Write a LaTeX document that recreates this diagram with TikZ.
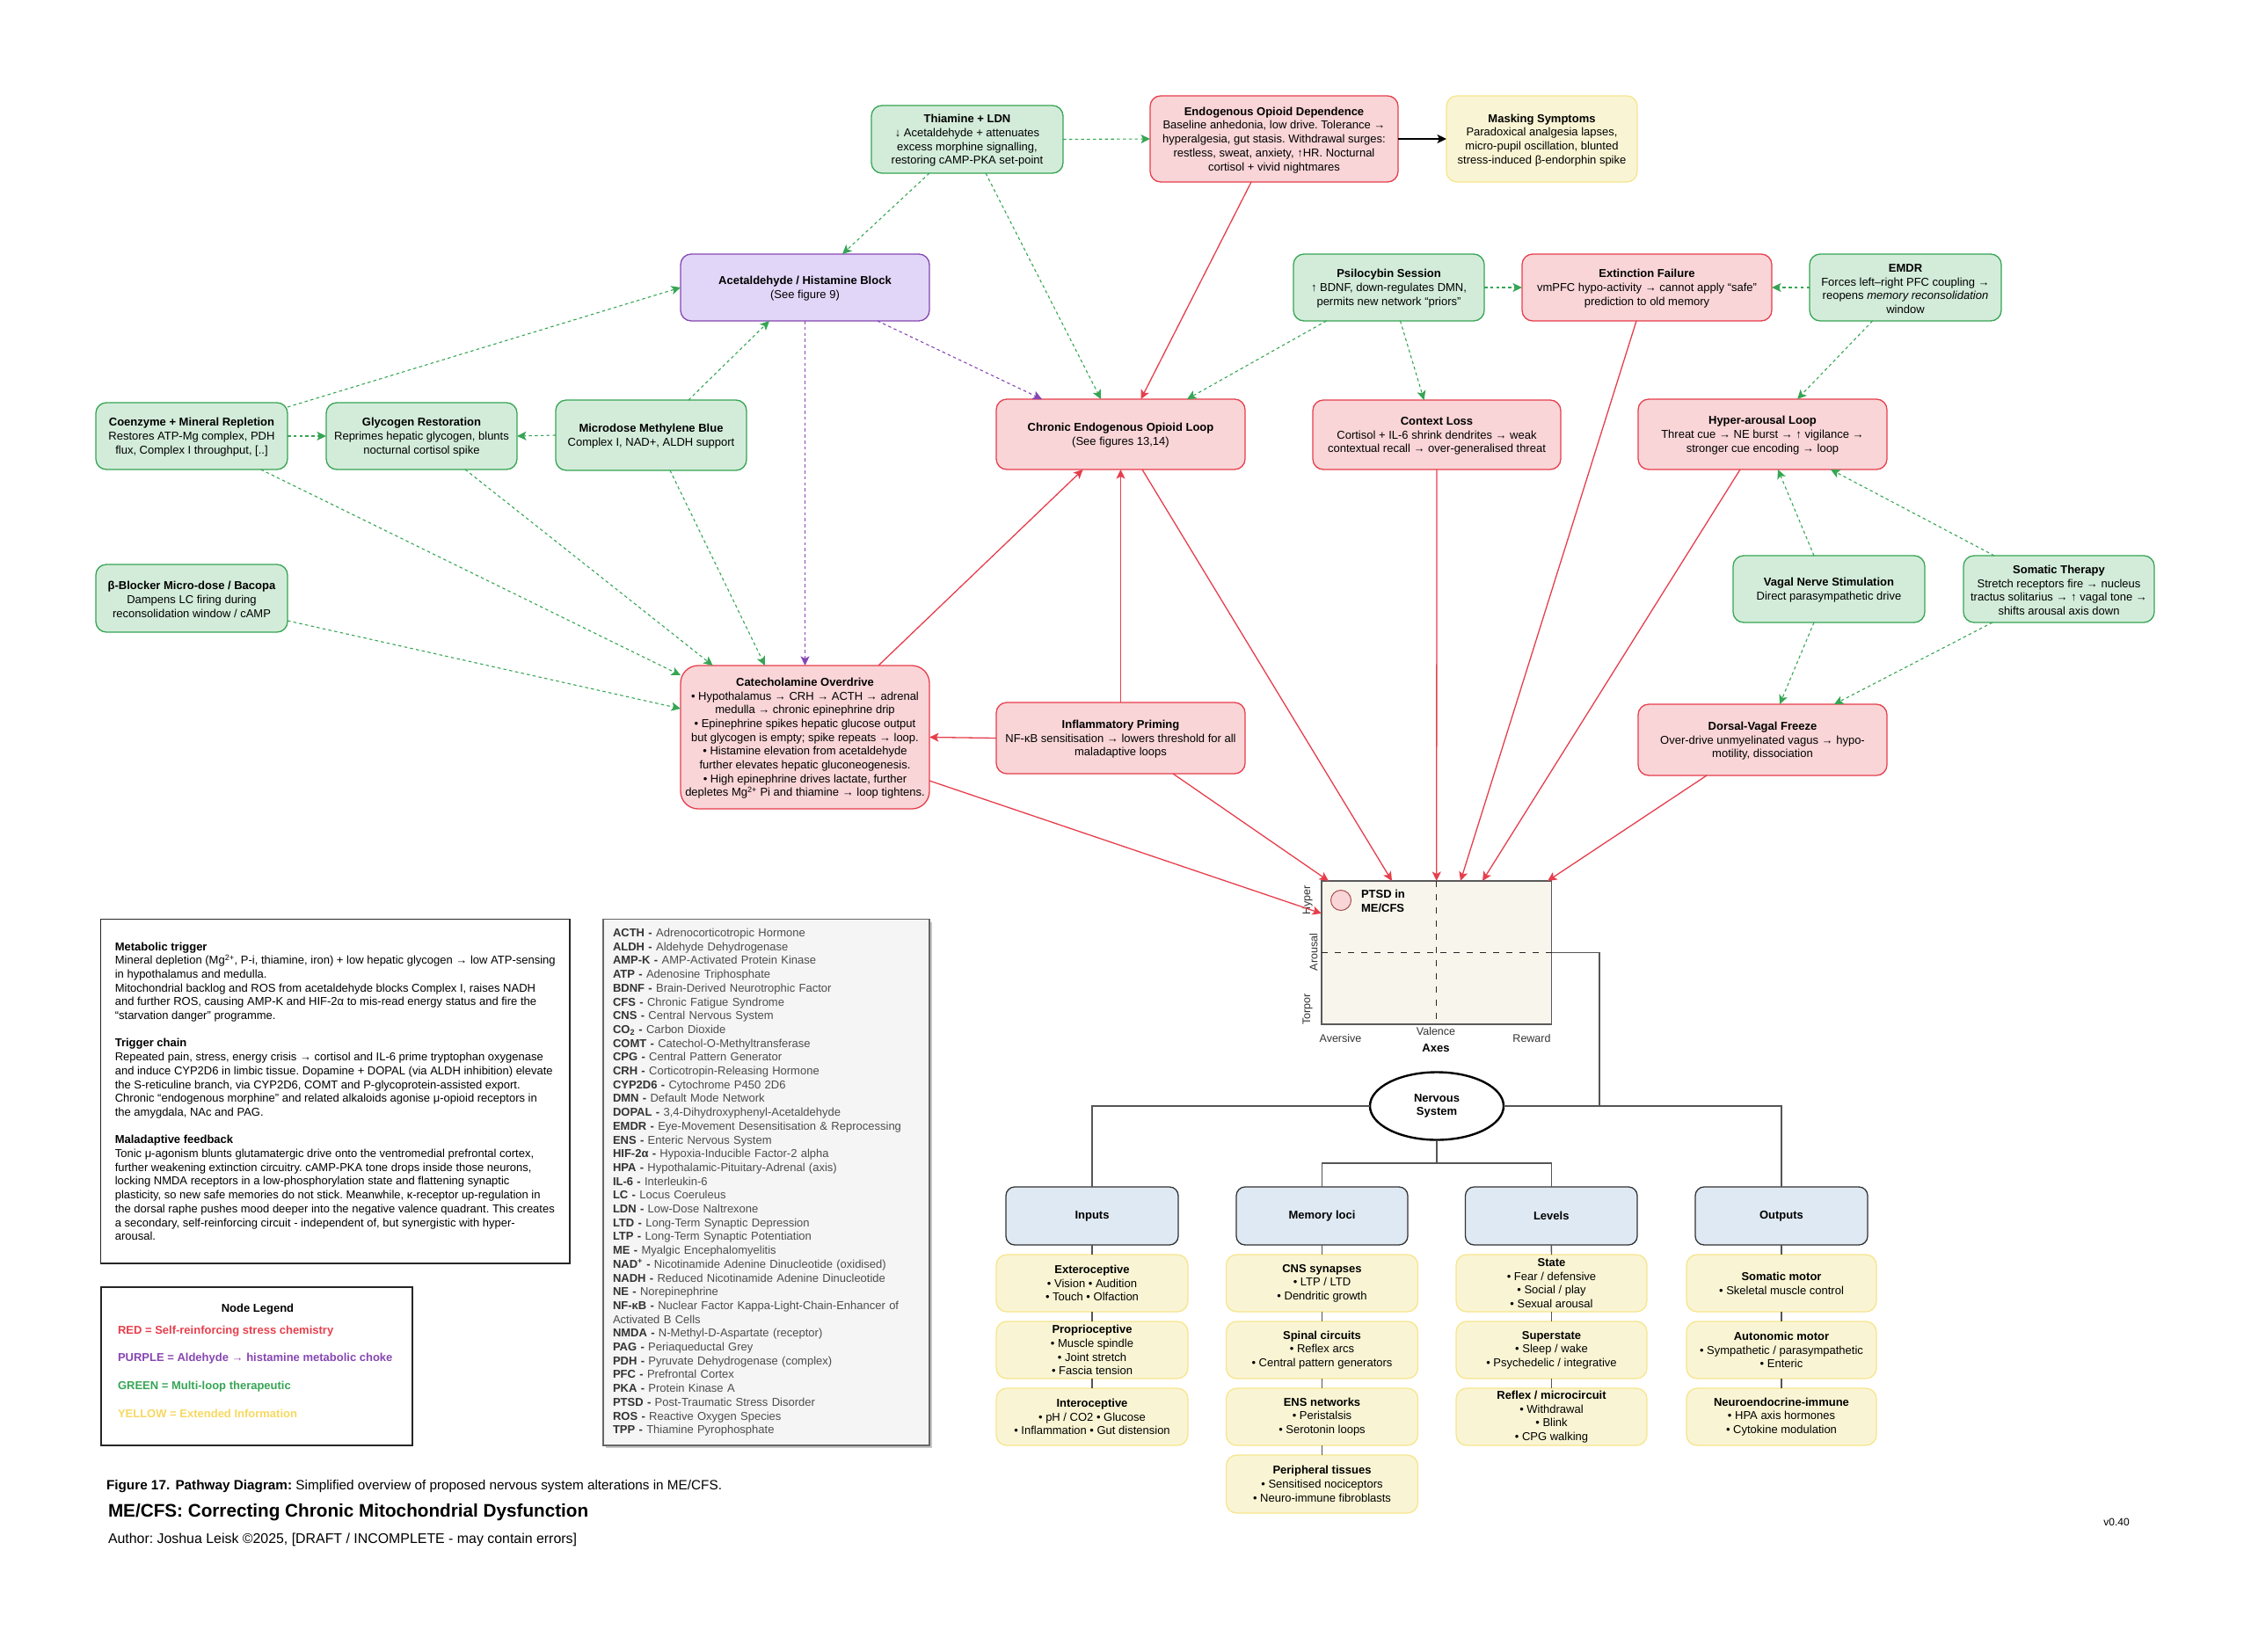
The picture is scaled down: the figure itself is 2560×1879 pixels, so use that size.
\documentclass[tikz,border=0pt]{standalone}
\usepackage{fontspec}
\setmainfont{Liberation Sans}
\usetikzlibrary{arrows.meta,calc,shapes.geometric,shadows}
\AtBeginDocument{\frenchspacing}
\definecolor{redfill}{HTML}{F9D5D7}
\definecolor{redline}{HTML}{E63E4C}
\definecolor{greenfill}{HTML}{D3ECDA}
\definecolor{greenline}{HTML}{36A554}
\definecolor{purplefill}{HTML}{E2D6F8}
\definecolor{purpleline}{HTML}{8646B2}
\definecolor{yellowfill}{HTML}{F9F5D4}
\definecolor{yellowline}{HTML}{F7E58E}
\definecolor{bluefill}{HTML}{DFE9F3}
\definecolor{axesfill}{HTML}{F8F5EC}
\definecolor{greyline}{HTML}{555555}
\definecolor{abbrfill}{HTML}{F5F5F5}
\definecolor{legyellow}{HTML}{F6D860}
\newcommand{\pbox}[7]{\node[#2,minimum width={#5-#3},minimum height={#6-#4}] (#1) at ({(#3+#5)/2},{(#4+#6)/2}) {\rule{0pt}{12pt}#7};}
\newcommand{\pboxn}[7]{\node[#2,minimum width={#5-#3},minimum height={#6-#4}] (#1) at ({(#3+#5)/2},{(#4+#6)/2}) {#7};}
\newcommand{\ab}[2]{\textcolor[HTML]{333333}{\textbf{#1 -}} #2\\}
\tikzset{
  every node/.style={font=\fontsize{13}{15.7}\selectfont,inner sep=0pt,outer sep=0pt,align=center},
  roundbox/.style={draw,rounded corners=12pt,line width=1.3pt},
  redbox/.style={roundbox,fill=redfill,draw=redline},
  greenbox/.style={roundbox,fill=greenfill,draw=greenline},
  purplebox/.style={roundbox,fill=purplefill,draw=purpleline},
  yellowbox/.style={roundbox,fill=yellowfill,draw=yellowline},
  bluebox/.style={roundbox,fill=bluefill,draw=black!80,rounded corners=10pt},
  panelbox/.style={draw=black!85,line width=1.3pt},
  tip/.style={-{Stealth[length=10.5pt,width=10pt,inset=2.5pt]}},
  gline/.style={tip,draw=greenline,line width=1.1pt,dash pattern=on 3.5pt off 3.3pt},
  pline/.style={tip,draw=purpleline,line width=1.1pt,dash pattern=on 3.5pt off 3.3pt},
  rline/.style={tip,draw=redline,line width=1.3pt},
  kline/.style={tip,draw=black,line width=1.6pt},
  conn/.style={draw=greyline,line width=1.4pt},
  axdash/.style={draw=black!85,line width=1.4pt,dash pattern=on 7pt off 8pt},
  axtext/.style={font=\fontsize{12.5}{15}\selectfont,text=black!80},
  legline/.style={font=\fontsize{13}{15}\selectfont\bfseries,anchor=west},
}
\begin{document}
\begin{tikzpicture}[x=1pt,y=-1pt]
\useasboundingbox (0,0) rectangle (2560,1879);

% ---- upper nodes
\pbox{thi}{greenbox}{991}{120}{1209}{197}{\textbf{Thiamine + LDN}\\↓ Acetaldehyde + attenuates\\excess morphine signalling,\\restoring cAMP-PKA set-point}
\pbox{endo}{redbox}{1308}{109}{1590}{207}{\textbf{Endogenous Opioid Dependence}\\Baseline anhedonia, low drive. Tolerance →\\hyperalgesia, gut stasis. Withdrawal surges:\\restless, sweat, anxiety, ↑HR. Nocturnal\\cortisol + vivid nightmares}
\pbox{mask}{yellowbox}{1645}{109}{1862}{207}{\textbf{Masking Symptoms}\\Paradoxical analgesia lapses,\\micro-pupil oscillation, blunted\\stress-induced β-endorphin spike}
\pbox{acet}{purplebox}{774}{289}{1057}{365}{\textbf{Acetaldehyde / Histamine Block}\\(See figure 9)}
\pbox{psi}{greenbox}{1471}{289}{1688}{365}{\textbf{Psilocybin Session}\\↑ BDNF, down-regulates DMN,\\permits new network “priors”}
\pbox{ext}{redbox}{1731}{289}{2015}{365}{\textbf{Extinction Failure}\\vmPFC hypo-activity → cannot apply “safe”\\prediction to old memory}
\pbox{emdr}{greenbox}{2058}{289}{2276}{365}{\textbf{EMDR}\\Forces left–right PFC coupling →\\reopens \textit{memory reconsolidation}\\window}
\pbox{coen}{greenbox}{109}{458}{327}{534}{\textbf{Coenzyme + Mineral Repletion}\\Restores ATP-Mg complex, PDH\\flux, Complex I throughput, [..]}
\pbox{glyc}{greenbox}{371}{458}{588}{534}{\textbf{Glycogen Restoration}\\Reprimes hepatic glycogen, blunts\\nocturnal cortisol spike}
\pbox{micro}{greenbox}{632}{455}{849}{535}{\textbf{Microdose Methylene Blue}\\Complex I, NAD+, ALDH support}
\pbox{chron}{redbox}{1133}{454}{1416}{534}{\textbf{Chronic Endogenous Opioid Loop}\\(See figures 13,14)}
\pbox{ctx}{redbox}{1493}{455}{1775}{534}{\textbf{Context Loss}\\Cortisol + IL-6 shrink dendrites → weak\\contextual recall → over-generalised threat}
\pbox{hyp}{redbox}{1863}{454}{2146}{534}{\textbf{Hyper-arousal Loop}\\Threat cue → NE burst → ↑ vigilance →\\stronger cue encoding → loop}
\pbox{vag}{greenbox}{1971}{632}{2189}{708}{\textbf{Vagal Nerve Stimulation}\\Direct parasympathetic drive}
\pbox{som}{greenbox}{2233}{632}{2450}{708}{\textbf{Somatic Therapy}\\Stretch receptors fire → nucleus\\tractus solitarius → ↑ vagal tone →\\shifts arousal axis down}
\pbox{blk}{greenbox}{109}{642}{327}{719}{\textbf{β-Blocker Micro-dose / Bacopa}\\Dampens LC firing during\\reconsolidation window / cAMP}
\pbox{cat}{redbox,rounded corners=20pt}{774}{757}{1057}{920}{\textbf{Catecholamine Overdrive}\\• Hypothalamus → CRH → ACTH → adrenal\\medulla → chronic epinephrine drip\\• Epinephrine spikes hepatic glucose output\\but glycogen is empty; spike repeats → loop.\\• Histamine elevation from acetaldehyde\\further elevates hepatic gluconeogenesis.\\• High epinephrine drives lactate, further\\depletes Mg\textsuperscript{2+} Pi and thiamine → loop tightens.}
\pbox{inf}{redbox}{1133}{799}{1416}{880}{\textbf{Inflammatory Priming}\\NF-κB sensitisation → lowers threshold for all\\maladaptive loops}
\pbox{dor}{redbox}{1863}{801}{2146}{882}{\textbf{Dorsal-Vagal Freeze}\\Over-drive unmyelinated vagus → hypo-\\motility, dissociation}

% ---- axes panel
\pboxn{axes}{draw=black!65,fill=axesfill,line width=1.4pt}{1503}{1002}{1764.5}{1165}{}
\draw[axdash] (axes.north) -- (axes.south);
\draw[axdash] (axes.west) -- (axes.east);
\node[circle,draw=red!50!black!70,fill=redfill,line width=1pt,minimum width=23pt] (ptsdmark) at (1525,1024) {};
\node[anchor=west,align=left] (ptsd) at (1548,1025) {\textbf{PTSD in}\\\textbf{ME/CFS}};
\node[axtext,rotate=90] (lhyper) at (1487,1024) {Hyper};
\node[axtext,rotate=90] (larousal) at (1494,1083) {Arousal};
\node[axtext,rotate=90] (ltorpor) at (1487,1148) {Torpor};
\node[axtext] (laver) at (1524.5,1181) {Aversive};
\node[axtext] (lval) at (1633,1173) {Valence};
\node[axtext] (lrew) at (1742,1181) {Reward};
\node (laxes) at (1633,1192) {\textbf{Axes}};

% ---- nervous system tree
\node[ellipse,draw=black,fill=white,line width=2.4pt,minimum width=152pt,minimum height=77pt] (ns) at (1634,1258) {\textbf{Nervous}\\\textbf{System}};
\pboxn{inputs}{bluebox}{1144}{1350}{1340}{1416}{\textbf{Inputs}}
\pboxn{memory}{bluebox}{1406}{1350}{1601}{1416}{\textbf{Memory loci}}
\pboxn{levels}{bluebox}{1666.5}{1350}{1862}{1416}{\textbf{Levels}}
\pboxn{outputs}{bluebox}{1928}{1350}{2124}{1416}{\textbf{Outputs}}

\pboxn{ia}{yellowbox}{1133}{1427}{1351}{1492}{\textbf{Exteroceptive}\\• Vision • Audition\\• Touch • Olfaction}
\pboxn{ib}{yellowbox}{1133}{1503}{1351}{1568}{\textbf{Proprioceptive}\\• Muscle spindle\\• Joint stretch\\• Fascia tension}
\pboxn{ic}{yellowbox}{1133}{1579}{1351}{1644}{\textbf{Interoceptive}\\• pH / CO2 • Glucose\\• Inflammation • Gut distension}
\pboxn{ma}{yellowbox}{1394.5}{1427}{1612.5}{1492}{\textbf{CNS synapses}\\• LTP / LTD\\• Dendritic growth}
\pboxn{mb}{yellowbox}{1394.5}{1503}{1612.5}{1568}{\textbf{Spinal circuits}\\• Reflex arcs\\• Central pattern generators}
\pboxn{mc}{yellowbox}{1394.5}{1579}{1612.5}{1644}{\textbf{ENS networks}\\• Peristalsis\\• Serotonin loops}
\pboxn{md}{yellowbox}{1394.5}{1655}{1612.5}{1721}{\textbf{Peripheral tissues}\\• Sensitised nociceptors\\• Neuro-immune fibroblasts}
\pboxn{la}{yellowbox}{1656}{1427}{1873}{1492}{\textbf{State}\\• Fear / defensive\\• Social / play\\• Sexual arousal}
\pboxn{lb}{yellowbox}{1656}{1503}{1873}{1568}{\textbf{Superstate}\\• Sleep / wake\\• Psychedelic / integrative}
\pboxn{lc}{yellowbox}{1656}{1579}{1873}{1644}{\textbf{Reflex / microcircuit}\\• Withdrawal\\• Blink\\• CPG walking}
\pboxn{oa}{yellowbox}{1918}{1427}{2134}{1492}{\textbf{Somatic motor}\\• Skeletal muscle control}
\pboxn{ob}{yellowbox}{1918}{1503}{2134}{1568}{\textbf{Autonomic motor}\\• Sympathetic / parasympathetic\\• Enteric}
\pboxn{oc}{yellowbox}{1918}{1579}{2134}{1644}{\textbf{Neuroendocrine-immune}\\• HPA axis hormones\\• Cytokine modulation}

\draw[conn] (axes.east) -| ($(ns.east)+(109,0)$);
\draw[conn] (ns.east) -| (outputs.north);
\draw[conn] (ns.west) -| (inputs.north);
\draw[conn] (memory.north) -- ++(0,-27) coordinate (busl) -| (levels.north);
\draw[conn] (ns.south) -- (ns.south |- busl);
\foreach \a/\b in {inputs/ia,ia/ib,ib/ic,memory/ma,ma/mb,mb/mc,mc/md,levels/la,la/lb,lb/lc,outputs/oa,oa/ob,ob/oc}
  \draw[conn] (\a.south) -- (\b.north);

% ---- connectors
\draw[gline] (thi.east) -- (endo.west);
\draw[kline] (endo.east) -- (mask.west);
\draw[gline] ($(thi.south west)+(66,0)$) -- ($(acet.north west)+(184,0)$);
\draw[gline] ($(thi.south west)+(130,0)$) -- ($(chron.north west)+(119,0)$);
\draw[rline] ($(endo.south west)+(115,0)$) -- ($(chron.north west)+(164.5,0)$);
\draw[pline] ($(acet.south west)+(224,0)$) -- ($(chron.north west)+(52,0)$);
\draw[gline] ($(psi.south west)+(37.5,0)$) -- ($(chron.north east)+(-66,0)$);
\draw[gline] ($(psi.south west)+(121.5,0)$) -- ($(ctx.north west)+(126.5,0)$);
\draw[gline] (psi.east) -- (ext.west);
\draw[gline] (emdr.west) -- (ext.east);
\draw[gline] ($(emdr.south west)+(71.6,0)$) -- ($(hyp.north west)+(181,0)$);
\draw[gline] ($(vag.north west)+(92,0)$) -- ($(hyp.south west)+(159,0)$);
\draw[gline] ($(som.north west)+(35,0)$) -- ($(hyp.south west)+(219,0)$);
\draw[gline] ($(vag.south west)+(92,0)$) -- ($(dor.north west)+(161,0)$);
\draw[gline] ($(som.south west)+(33,0)$) -- ($(dor.north west)+(223,0)$);
\draw[rline] ($(ext.south west)+(130,0)$) -- ($(axes.north west)+(158,0)$);
\draw[rline] ($(hyp.south west)+(116,0)$) -- ($(axes.north west)+(183,0)$);
\draw[rline] ($(dor.south west)+(78,0)$) -- ($(axes.north east)+(-4.5,0)$);
\draw[rline] (ctx.south) -- (axes.north);
\draw[rline] ($(chron.south west)+(166,0)$) -- ($(axes.north west)+(80,0)$);
\draw[rline] ($(inf.south west)+(201,0)$) -- ($(axes.north west)+(8,0)$);
\draw[rline] ($(cat.south east)+(0,-32)$) -- ($(axes.north west)+(0,37)$);
\draw[rline] (inf.west) -- (cat.east);
\draw[rline] (inf.north) -- (chron.south);
\draw[rline] ($(cat.north west)+(225,0)$) -- ($(chron.south west)+(98.6,0)$);
\draw[gline] ($(coen.north east)+(0,5)$) -- (acet.west);
\draw[gline] (coen.east) -- (glyc.west);
\draw[gline] (micro.west) -- (glyc.east);
\draw[gline] ($(micro.north west)+(151,0)$) -- ($(acet.south west)+(101,0)$);
\draw[pline] (acet.south) -- (cat.north);
\draw[gline] ($(coen.south west)+(187.6,0)$) -- ($(cat.north west)+(0,11)$);
\draw[gline] ($(glyc.south west)+(158,0)$) -- ($(cat.north west)+(36.7,0)$);
\draw[gline] ($(micro.south west)+(130,0)$) -- ($(cat.north west)+(96,0)$);
\draw[gline] ($(blk.south east)+(0,-13)$) -- ($(cat.north west)+(0,49)$);

% ---- text panels
\node[panelbox,minimum height=391.5pt,minimum width=533.5pt,align=left] (notes) at (381.25,1241.25) {%
\textbf{Metabolic trigger}\\
Mineral depletion (Mg\textsuperscript{2+}, P-i, thiamine, iron) + low hepatic glycogen → low ATP-sensing\\
in hypothalamus and medulla.\\
Mitochondrial backlog and ROS from acetaldehyde blocks Complex I, raises NADH\\
and further ROS, causing AMP-K and HIF-2α to mis-read energy status and fire the\\
“starvation danger” programme.\\[15.7pt]
\textbf{Trigger chain}\\
Repeated pain, stress, energy crisis → cortisol and IL-6 prime tryptophan oxygenase\\
and induce CYP2D6 in limbic tissue. Dopamine + DOPAL (via ALDH inhibition) elevate\\
the S-reticuline branch, via CYP2D6, COMT and P-glycoprotein-assisted export.\\
Chronic “endogenous morphine” and related alkaloids agonise μ-opioid receptors in\\
the amygdala, NAc and PAG.\\[15.7pt]
\textbf{Maladaptive feedback}\\
Tonic μ-agonism blunts glutamatergic drive onto the ventromedial prefrontal cortex,\\
further weakening extinction circuitry. cAMP-PKA tone drops inside those neurons,\\
locking NMDA receptors in a low-phosphorylation state and flattening synaptic\\
plasticity, so new safe memories do not stick. Meanwhile, κ-receptor up-regulation in\\
the dorsal raphe pushes mood deeper into the negative valence quadrant. This creates\\
a secondary, self-reinforcing circuit - independent of, but synergistic with hyper-\\
arousal.};

\pboxn{legend}{panelbox}{115}{1464}{469}{1644}{}
\node[font=\fontsize{13}{15.7}\selectfont\bfseries] (legtitle) at (293,1489) {Node Legend};
\node[legline,text=redline] (legr) at (134,1514) {RED = Self-reinforcing stress chemistry};
\node[legline,text=purpleline] (legp) at (134,1545) {PURPLE = Aldehyde → histamine metabolic choke};
\node[legline,text=greenline] (legg) at (134,1577) {GREEN = Multi-loop therapeutic};
\node[legline,text=legyellow] (legy) at (134,1608) {YELLOW = Extended Information};

\node[draw=black!60,fill=abbrfill,line width=1.3pt,minimum height=598.5pt,text width=349pt,inner xsep=11pt,align=left,text=black!70,drop shadow={opacity=0.45,shadow xshift=3pt,shadow yshift=-3pt}] (abbr) at (871.5,1344.75) {%
\ab{ACTH}{Adrenocorticotropic Hormone}
\ab{ALDH}{Aldehyde Dehydrogenase}
\ab{AMP-K}{AMP-Activated Protein Kinase}
\ab{ATP}{Adenosine Triphosphate}
\ab{BDNF}{Brain-Derived Neurotrophic Factor}
\ab{CFS}{Chronic Fatigue Syndrome}
\ab{CNS}{Central Nervous System}
\ab{CO\textsubscript{2}}{Carbon Dioxide}
\ab{COMT}{Catechol-O-Methyltransferase}
\ab{CPG}{Central Pattern Generator}
\ab{CRH}{Corticotropin-Releasing Hormone}
\ab{CYP2D6}{Cytochrome P450 2D6}
\ab{DMN}{Default Mode Network}
\ab{DOPAL}{3,4-Dihydroxyphenyl-Acetaldehyde}
\ab{EMDR}{Eye-Movement Desensitisation \& Reprocessing}
\ab{ENS}{Enteric Nervous System}
\ab{HIF-2α}{Hypoxia-Inducible Factor-2 alpha}
\ab{HPA}{Hypothalamic-Pituitary-Adrenal (axis)}
\ab{IL-6}{Interleukin-6}
\ab{LC}{Locus Coeruleus}
\ab{LDN}{Low-Dose Naltrexone}
\ab{LTD}{Long-Term Synaptic Depression}
\ab{LTP}{Long-Term Synaptic Potentiation}
\ab{ME}{Myalgic Encephalomyelitis}
\ab{NAD\textsuperscript{+}}{Nicotinamide Adenine Dinucleotide (oxidised)}
\ab{NADH}{Reduced Nicotinamide Adenine Dinucleotide}
\ab{NE}{Norepinephrine}
\ab{NF-κB}{Nuclear Factor Kappa-Light-Chain-Enhancer of}
Activated B Cells\\
\ab{NMDA}{N-Methyl-D-Aspartate (receptor)}
\ab{PAG}{Periaqueductal Grey}
\ab{PDH}{Pyruvate Dehydrogenase (complex)}
\ab{PFC}{Prefrontal Cortex}
\ab{PKA}{Protein Kinase A}
\ab{PTSD}{Post-Traumatic Stress Disorder}
\ab{ROS}{Reactive Oxygen Species}
\textcolor[HTML]{333333}{\textbf{TPP -}} Thiamine Pyrophosphate};

% ---- caption
\node[anchor=west,font=\fontsize{15.3}{18}\selectfont] (fig) at (121,1691) {\textbf{Figure 17.}\hspace{2pt} \textbf{Pathway Diagram:} Simplified overview of proposed nervous system alterations in ME/CFS.};
\node[anchor=west,font=\fontsize{20.7}{24}\selectfont\bfseries] (title) at (123,1720) {ME/CFS: Correcting Chronic Mitochondrial Dysfunction};
\node[anchor=west,font=\fontsize{15.9}{18}\selectfont] (author) at (123,1751) {Author: Joshua Leisk ©2025, [DRAFT / INCOMPLETE - may contain errors]};
\node[font=\fontsize{12}{14}\selectfont] (ver) at (2407,1731) {v0.40};
\end{tikzpicture}
\end{document}
